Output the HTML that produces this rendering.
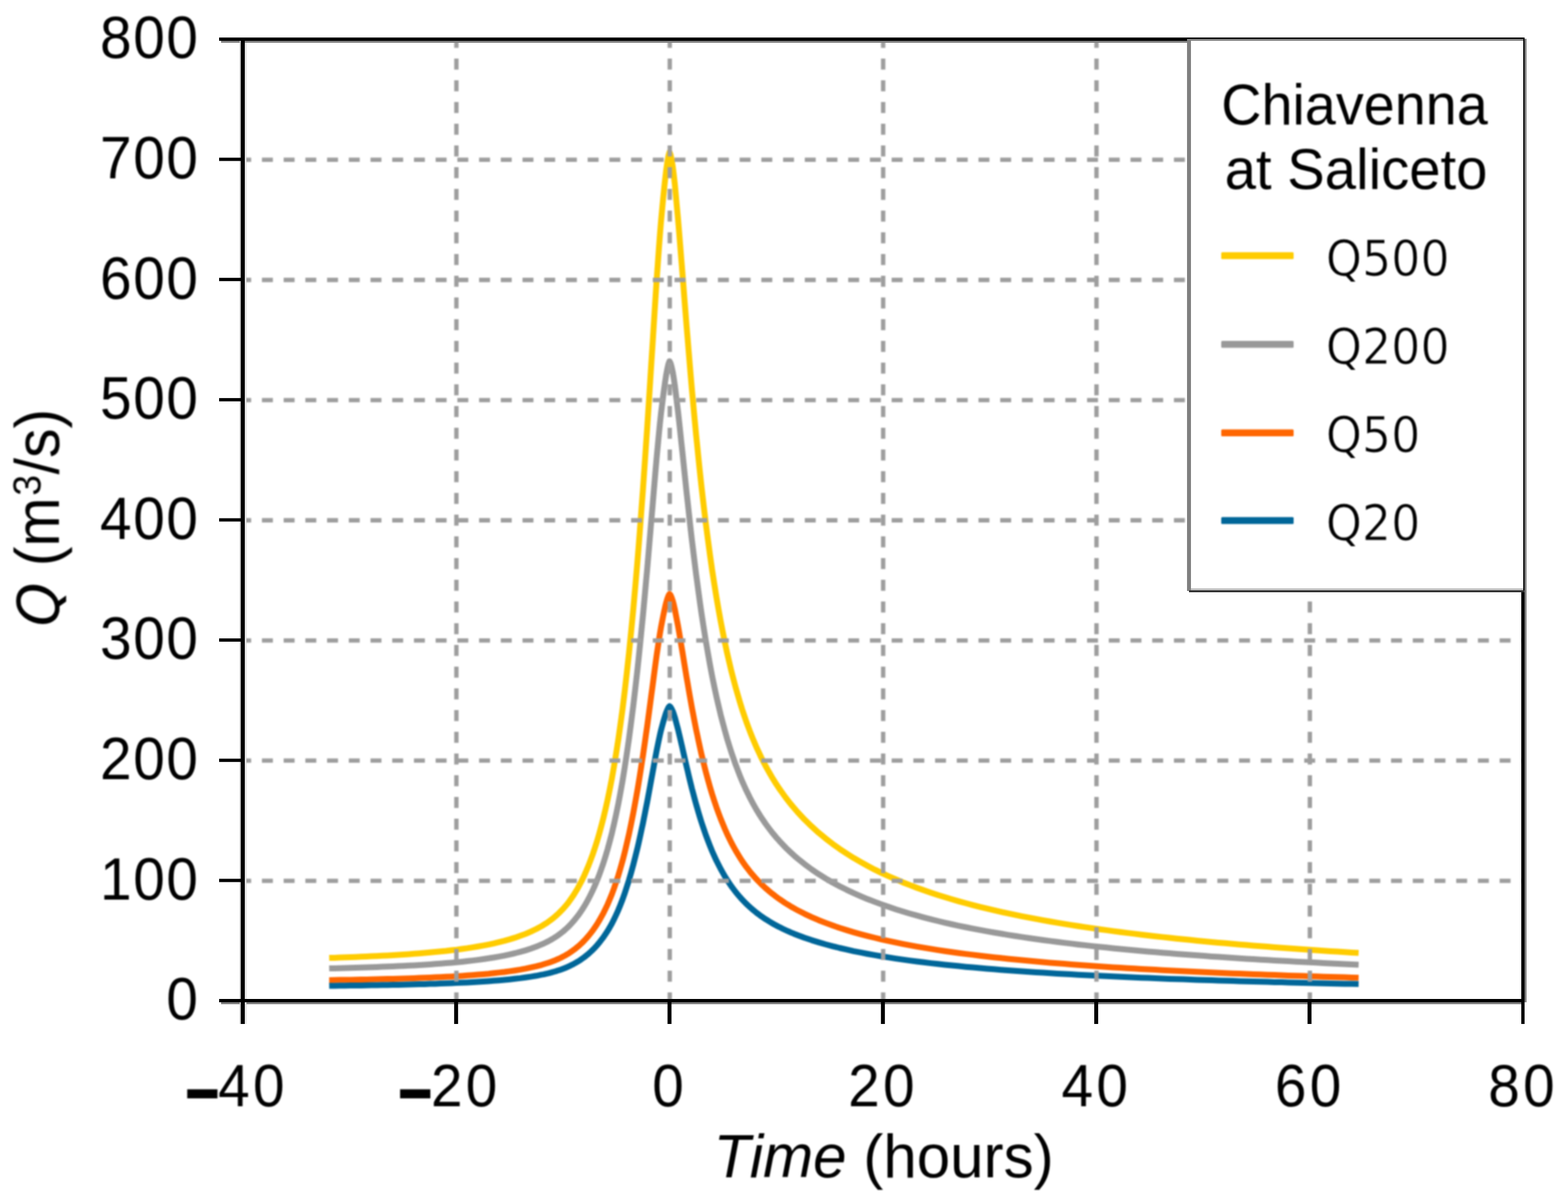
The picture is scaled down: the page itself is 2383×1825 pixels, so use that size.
<!DOCTYPE html>
<html lang="en"><head><meta charset="utf-8"><title>Chiavenna at Saliceto - synthetic design hydrographs</title>
<style>html,body{margin:0;padding:0;background:#fff}body{width:2383px;height:1825px;overflow:hidden}svg{display:block}text{font-family:"Liberation Sans", sans-serif;fill:#000}</style>
</head><body>
<svg width="2383" height="1825" viewBox="0 0 2383 1825">
<defs><filter id="soft" x="0" y="0" width="2383" height="1825" filterUnits="userSpaceOnUse" color-interpolation-filters="sRGB"><feGaussianBlur stdDeviation="0.85"/></filter></defs>
<rect width="2383" height="1825" fill="#fff"/>
<g filter="url(#soft)">
<g fill="none" stroke-width="9" stroke-linejoin="round" stroke-linecap="butt">
<polyline stroke="#ffcc00" points="500.3,1455.6 508.4,1455.4 516.5,1455.1 524.5,1454.8 532.6,1454.5 540.6,1454.2 548.7,1453.8 556.8,1453.5 564.8,1453.1 572.9,1452.7 581.0,1452.3 589.0,1451.9 597.1,1451.4 605.2,1450.9 613.2,1450.4 621.3,1449.9 629.4,1449.3 637.4,1448.7 645.5,1448.0 653.6,1447.3 661.6,1446.6 669.7,1445.8 677.8,1445.0 685.8,1444.0 693.9,1443.1 702.0,1442.0 710.0,1440.9 718.1,1439.6 726.2,1438.3 734.2,1436.9 742.3,1435.3 750.4,1433.6 758.4,1431.7 766.5,1429.7 774.6,1427.4 782.6,1424.9 790.7,1422.1 798.8,1419.1 806.8,1415.6 814.9,1411.8 823.0,1407.4 826.2,1405.4 829.4,1403.4 832.7,1401.2 835.9,1398.9 839.2,1396.4 842.4,1393.8 845.6,1391.0 848.9,1388.0 852.1,1384.8 855.4,1381.4 858.6,1377.8 861.9,1373.9 865.1,1369.7 868.3,1365.2 871.6,1360.4 874.8,1355.2 878.1,1349.7 881.3,1343.7 884.6,1337.4 887.8,1330.6 891.0,1323.3 894.3,1315.5 897.5,1307.2 900.8,1298.2 904.0,1288.7 907.3,1278.5 910.5,1267.5 913.7,1255.8 917.0,1243.2 920.2,1229.6 923.5,1215.0 926.7,1199.3 930.0,1182.5 933.2,1164.3 936.4,1144.8 939.7,1123.8 942.9,1101.1 946.2,1076.8 949.4,1050.6 952.6,1022.6 955.9,992.6 959.1,960.5 962.4,926.4 965.6,890.1 968.9,851.7 970.5,831.6 972.1,811.0 973.7,789.8 975.3,768.1 977.0,745.8 978.6,723.0 980.2,699.7 981.8,675.9 983.5,651.6 985.1,627.0 986.7,602.0 988.3,576.7 989.9,551.2 991.6,525.6 993.2,500.1 994.8,474.7 996.4,449.6 998.0,425.1 999.7,401.4 1001.3,378.7 1002.9,357.4 1004.5,337.5 1006.2,319.0 1007.8,302.1 1009.4,286.2 1011.0,271.2 1012.6,257.6 1014.3,245.8 1015.9,236.7 1017.5,231.2 1019.1,235.2 1020.7,242.7 1022.4,252.9 1024.0,265.5 1025.6,280.1 1027.2,297.4 1028.8,314.8 1030.5,333.2 1032.1,352.5 1033.7,372.3 1035.3,392.6 1037.0,413.1 1038.6,433.7 1040.2,454.3 1041.8,474.7 1043.4,494.9 1045.1,514.9 1046.7,534.6 1048.3,553.9 1049.9,572.9 1051.5,591.4 1053.2,609.6 1054.8,627.3 1056.4,644.6 1058.0,661.5 1059.7,677.9 1061.3,694.0 1062.9,709.6 1064.5,724.8 1066.1,739.6 1069.4,767.9 1072.6,794.7 1075.9,820.0 1079.1,843.8 1082.3,866.3 1085.6,887.5 1088.8,907.5 1092.1,926.4 1095.3,944.2 1098.6,961.1 1101.8,977.0 1105.0,992.0 1108.3,1006.2 1111.5,1019.7 1114.8,1032.5 1118.0,1044.6 1121.3,1056.1 1124.5,1067.0 1127.7,1077.4 1131.0,1087.2 1134.2,1096.6 1137.5,1105.5 1140.7,1114.0 1144.0,1122.1 1147.2,1129.8 1150.4,1137.2 1153.7,1144.2 1156.9,1151.0 1160.2,1157.5 1163.4,1163.7 1166.7,1169.6 1169.9,1175.3 1173.1,1180.8 1176.4,1186.1 1179.6,1191.3 1182.9,1196.2 1186.1,1200.9 1189.4,1205.5 1192.6,1210.0 1195.8,1214.3 1199.1,1218.5 1202.3,1222.5 1205.6,1226.4 1208.8,1230.2 1212.0,1233.9 1222.7,1245.3 1233.4,1255.7 1244.0,1265.3 1254.7,1274.1 1265.3,1282.3 1276.0,1289.9 1286.7,1297.0 1297.3,1303.7 1308.0,1309.9 1318.6,1315.8 1329.3,1321.4 1340.0,1326.6 1350.6,1331.5 1361.3,1336.2 1371.9,1340.7 1382.6,1344.9 1393.3,1349.0 1403.9,1352.8 1414.6,1356.5 1425.2,1360.0 1435.9,1363.3 1446.6,1366.5 1457.2,1369.6 1467.9,1372.5 1478.5,1375.4 1489.2,1378.1 1499.9,1380.7 1510.5,1383.2 1521.2,1385.6 1531.8,1387.9 1542.5,1390.2 1553.2,1392.3 1563.8,1394.4 1574.5,1396.4 1585.1,1398.4 1595.8,1400.3 1606.5,1402.1 1617.1,1403.9 1627.8,1405.6 1638.4,1407.3 1649.1,1408.9 1659.8,1410.4 1670.4,1412.0 1681.1,1413.4 1691.7,1414.9 1702.4,1416.3 1713.1,1417.6 1723.7,1418.9 1734.4,1420.2 1745.0,1421.5 1755.7,1422.7 1766.4,1423.9 1777.0,1425.0 1787.7,1426.2 1798.3,1427.3 1809.0,1428.3 1819.7,1429.4 1830.3,1430.4 1841.0,1431.4 1851.6,1432.4 1862.3,1433.3 1873.0,1434.3 1883.6,1435.2 1894.3,1436.1 1904.9,1436.9 1915.6,1437.8 1926.3,1438.6 1936.9,1439.4 1947.6,1440.2 1958.2,1441.0 1968.9,1441.8 1979.5,1442.5 1990.2,1443.3 2000.9,1444.0 2011.5,1444.7 2022.2,1445.4 2032.8,1446.1 2043.5,1446.7 2054.2,1447.4 2064.8,1448.0"/>
<polyline stroke="#999999" points="500.3,1471.6 508.4,1471.4 516.5,1471.2 524.5,1471.0 532.6,1470.8 540.6,1470.5 548.7,1470.3 556.8,1470.0 564.8,1469.7 572.9,1469.4 581.0,1469.1 589.0,1468.8 597.1,1468.4 605.2,1468.1 613.2,1467.7 621.3,1467.3 629.4,1466.9 637.4,1466.4 645.5,1465.9 653.6,1465.4 661.6,1464.8 669.7,1464.2 677.8,1463.6 685.8,1462.9 693.9,1462.2 702.0,1461.4 710.0,1460.5 718.1,1459.6 726.2,1458.6 734.2,1457.5 742.3,1456.3 750.4,1455.0 758.4,1453.6 766.5,1452.1 774.6,1450.3 782.6,1448.5 790.7,1446.4 798.8,1444.1 806.8,1441.5 814.9,1438.6 823.0,1435.2 826.2,1433.8 829.4,1432.2 832.7,1430.6 835.9,1428.8 839.2,1427.0 842.4,1425.0 845.6,1422.9 848.9,1420.7 852.1,1418.3 855.4,1415.7 858.6,1413.0 861.9,1410.0 865.1,1406.9 868.3,1403.5 871.6,1399.8 874.8,1395.9 878.1,1391.8 881.3,1387.3 884.6,1382.5 887.8,1377.4 891.0,1371.9 894.3,1366.0 897.5,1359.7 900.8,1353.0 904.0,1345.8 907.3,1338.1 910.5,1329.9 913.7,1321.0 917.0,1311.5 920.2,1301.3 923.5,1290.3 926.7,1278.5 930.0,1265.8 933.2,1252.1 936.4,1237.4 939.7,1221.5 942.9,1204.5 946.2,1186.1 949.4,1166.4 952.6,1145.3 955.9,1122.7 959.1,1098.5 962.4,1072.8 965.6,1045.5 968.9,1016.5 970.5,1001.4 972.1,985.8 973.7,969.9 975.3,953.5 977.0,936.7 978.6,919.5 980.2,902.0 981.8,884.0 983.5,865.8 985.1,847.2 986.7,828.3 988.3,809.3 989.9,790.1 991.6,770.8 993.2,751.6 994.8,732.4 996.4,713.5 998.0,695.1 999.7,677.2 1001.3,660.1 1002.9,644.0 1004.5,629.1 1006.2,615.1 1007.8,602.4 1009.4,590.4 1011.0,579.1 1012.6,568.8 1014.3,560.0 1015.9,553.1 1017.5,548.9 1019.1,552.0 1020.7,557.6 1022.4,565.3 1024.0,574.8 1025.6,585.8 1027.2,598.9 1028.8,612.0 1030.5,625.8 1032.1,640.3 1033.7,655.3 1035.3,670.6 1037.0,686.0 1038.6,701.5 1040.2,717.0 1041.8,732.4 1043.4,747.7 1045.1,762.8 1046.7,777.6 1048.3,792.1 1049.9,806.4 1051.5,820.4 1053.2,834.1 1054.8,847.4 1056.4,860.5 1058.0,873.2 1059.7,885.6 1061.3,897.7 1062.9,909.4 1064.5,920.9 1066.1,932.0 1069.4,953.4 1072.6,973.6 1075.9,992.6 1079.1,1010.6 1082.3,1027.5 1085.6,1043.5 1088.8,1058.6 1092.1,1072.8 1095.3,1086.3 1098.6,1098.9 1101.8,1110.9 1105.0,1122.3 1108.3,1133.0 1111.5,1143.1 1114.8,1152.8 1118.0,1161.9 1121.3,1170.5 1124.5,1178.8 1127.7,1186.6 1131.0,1194.0 1134.2,1201.1 1137.5,1207.8 1140.7,1214.2 1144.0,1220.3 1147.2,1226.1 1150.4,1231.7 1153.7,1237.0 1156.9,1242.1 1160.2,1246.9 1163.4,1251.6 1166.7,1256.1 1169.9,1260.4 1173.1,1264.6 1176.4,1268.5 1179.6,1272.4 1182.9,1276.1 1186.1,1279.7 1189.4,1283.2 1192.6,1286.5 1195.8,1289.8 1199.1,1292.9 1202.3,1295.9 1205.6,1298.9 1208.8,1301.8 1212.0,1304.5 1222.7,1313.1 1233.4,1321.0 1244.0,1328.2 1254.7,1334.8 1265.3,1341.0 1276.0,1346.7 1286.7,1352.1 1297.3,1357.1 1308.0,1361.8 1318.6,1366.3 1329.3,1370.4 1340.0,1374.4 1350.6,1378.1 1361.3,1381.7 1371.9,1385.0 1382.6,1388.2 1393.3,1391.2 1403.9,1394.1 1414.6,1396.9 1425.2,1399.5 1435.9,1402.1 1446.6,1404.5 1457.2,1406.8 1467.9,1409.0 1478.5,1411.1 1489.2,1413.2 1499.9,1415.1 1510.5,1417.0 1521.2,1418.8 1531.8,1420.6 1542.5,1422.3 1553.2,1423.9 1563.8,1425.5 1574.5,1427.0 1585.1,1428.5 1595.8,1429.9 1606.5,1431.3 1617.1,1432.6 1627.8,1433.9 1638.4,1435.2 1649.1,1436.4 1659.8,1437.6 1670.4,1438.7 1681.1,1439.8 1691.7,1440.9 1702.4,1442.0 1713.1,1443.0 1723.7,1444.0 1734.4,1444.9 1745.0,1445.9 1755.7,1446.8 1766.4,1447.7 1777.0,1448.6 1787.7,1449.4 1798.3,1450.2 1809.0,1451.0 1819.7,1451.8 1830.3,1452.6 1841.0,1453.4 1851.6,1454.1 1862.3,1454.8 1873.0,1455.5 1883.6,1456.2 1894.3,1456.9 1904.9,1457.5 1915.6,1458.2 1926.3,1458.8 1936.9,1459.4 1947.6,1460.0 1958.2,1460.6 1968.9,1461.2 1979.5,1461.7 1990.2,1462.3 2000.9,1462.8 2011.5,1463.4 2022.2,1463.9 2032.8,1464.4 2043.5,1464.9 2054.2,1465.4 2064.8,1465.9"/>
<polyline stroke="#ff6600" points="500.3,1489.4 508.4,1489.3 516.5,1489.1 524.5,1489.0 532.6,1488.9 540.6,1488.7 548.7,1488.5 556.8,1488.4 564.8,1488.2 572.9,1488.0 581.0,1487.8 589.0,1487.6 597.1,1487.4 605.2,1487.2 613.2,1486.9 621.3,1486.7 629.4,1486.4 637.4,1486.1 645.5,1485.8 653.6,1485.4 661.6,1485.1 669.7,1484.7 677.8,1484.3 685.8,1483.9 693.9,1483.4 702.0,1482.9 710.0,1482.3 718.1,1481.7 726.2,1481.1 734.2,1480.4 742.3,1479.7 750.4,1478.8 758.4,1477.9 766.5,1477.0 774.6,1475.9 782.6,1474.7 790.7,1473.4 798.8,1471.9 806.8,1470.2 814.9,1468.4 823.0,1466.3 826.2,1465.3 829.4,1464.3 832.7,1463.3 835.9,1462.2 839.2,1461.0 842.4,1459.8 845.6,1458.4 848.9,1457.0 852.1,1455.5 855.4,1453.8 858.6,1452.1 861.9,1450.2 865.1,1448.2 868.3,1446.1 871.6,1443.7 874.8,1441.3 878.1,1438.6 881.3,1435.8 884.6,1432.7 887.8,1429.5 891.0,1426.0 894.3,1422.2 897.5,1418.2 900.8,1414.0 904.0,1409.4 907.3,1404.5 910.5,1399.2 913.7,1393.6 917.0,1387.6 920.2,1381.1 923.5,1374.1 926.7,1366.6 930.0,1358.5 933.2,1349.8 936.4,1340.4 939.7,1330.3 942.9,1319.5 946.2,1307.8 949.4,1295.3 952.6,1281.8 955.9,1267.5 959.1,1252.1 962.4,1235.7 965.6,1218.3 968.9,1199.9 970.5,1190.3 972.1,1180.4 973.7,1170.3 975.3,1159.8 977.0,1149.2 978.6,1138.2 980.2,1127.1 981.8,1115.6 983.5,1104.0 985.1,1092.2 986.7,1080.2 988.3,1068.1 989.9,1055.9 991.6,1043.6 993.2,1031.4 994.8,1019.2 996.4,1007.2 998.0,995.5 999.7,984.1 1001.3,973.2 1002.9,963.0 1004.5,953.5 1006.2,944.6 1007.8,936.5 1009.4,928.9 1011.0,921.7 1012.6,915.2 1014.3,909.5 1015.9,905.2 1017.5,902.5 1019.1,904.4 1020.7,908.0 1022.4,912.9 1024.0,919.0 1025.6,925.9 1027.2,934.3 1028.8,942.6 1030.5,951.4 1032.1,960.6 1033.7,970.2 1035.3,979.9 1037.0,989.7 1038.6,999.6 1040.2,1009.4 1041.8,1019.2 1043.4,1028.9 1045.1,1038.5 1046.7,1047.9 1048.3,1057.2 1049.9,1066.3 1051.5,1075.2 1053.2,1083.9 1054.8,1092.4 1056.4,1100.7 1058.0,1108.8 1059.7,1116.6 1061.3,1124.3 1062.9,1131.8 1064.5,1139.1 1066.1,1146.2 1069.4,1159.8 1072.6,1172.6 1075.9,1184.7 1079.1,1196.2 1082.3,1206.9 1085.6,1217.1 1088.8,1226.7 1092.1,1235.7 1095.3,1244.3 1098.6,1252.3 1101.8,1260.0 1105.0,1267.2 1108.3,1274.0 1111.5,1280.5 1114.8,1286.6 1118.0,1292.4 1121.3,1297.9 1124.5,1303.1 1127.7,1308.1 1131.0,1312.8 1134.2,1317.3 1137.5,1321.6 1140.7,1325.7 1144.0,1329.5 1147.2,1333.2 1150.4,1336.8 1153.7,1340.1 1156.9,1343.4 1160.2,1346.5 1163.4,1349.5 1166.7,1352.3 1169.9,1355.1 1173.1,1357.7 1176.4,1360.2 1179.6,1362.7 1182.9,1365.1 1186.1,1367.3 1189.4,1369.5 1192.6,1371.7 1195.8,1373.7 1199.1,1375.7 1202.3,1377.7 1205.6,1379.5 1208.8,1381.4 1212.0,1383.1 1222.7,1388.6 1233.4,1393.6 1244.0,1398.2 1254.7,1402.4 1265.3,1406.3 1276.0,1410.0 1286.7,1413.4 1297.3,1416.6 1308.0,1419.6 1318.6,1422.4 1329.3,1425.0 1340.0,1427.6 1350.6,1429.9 1361.3,1432.2 1371.9,1434.3 1382.6,1436.3 1393.3,1438.3 1403.9,1440.1 1414.6,1441.9 1425.2,1443.6 1435.9,1445.2 1446.6,1446.7 1457.2,1448.2 1467.9,1449.6 1478.5,1450.9 1489.2,1452.2 1499.9,1453.5 1510.5,1454.7 1521.2,1455.8 1531.8,1457.0 1542.5,1458.0 1553.2,1459.1 1563.8,1460.1 1574.5,1461.0 1585.1,1462.0 1595.8,1462.9 1606.5,1463.8 1617.1,1464.6 1627.8,1465.4 1638.4,1466.2 1649.1,1467.0 1659.8,1467.7 1670.4,1468.5 1681.1,1469.2 1691.7,1469.9 1702.4,1470.5 1713.1,1471.2 1723.7,1471.8 1734.4,1472.4 1745.0,1473.0 1755.7,1473.6 1766.4,1474.2 1777.0,1474.7 1787.7,1475.3 1798.3,1475.8 1809.0,1476.3 1819.7,1476.8 1830.3,1477.3 1841.0,1477.8 1851.6,1478.3 1862.3,1478.7 1873.0,1479.2 1883.6,1479.6 1894.3,1480.0 1904.9,1480.4 1915.6,1480.8 1926.3,1481.2 1936.9,1481.6 1947.6,1482.0 1958.2,1482.4 1968.9,1482.8 1979.5,1483.1 1990.2,1483.5 2000.9,1483.8 2011.5,1484.2 2022.2,1484.5 2032.8,1484.8 2043.5,1485.1 2054.2,1485.5 2064.8,1485.8"/>
<polyline stroke="#006699" points="500.3,1498.0 508.4,1497.9 516.5,1497.8 524.5,1497.7 532.6,1497.6 540.6,1497.5 548.7,1497.4 556.8,1497.2 564.8,1497.1 572.9,1497.0 581.0,1496.8 589.0,1496.7 597.1,1496.5 605.2,1496.4 613.2,1496.2 621.3,1496.0 629.4,1495.8 637.4,1495.6 645.5,1495.4 653.6,1495.1 661.6,1494.9 669.7,1494.6 677.8,1494.3 685.8,1494.0 693.9,1493.6 702.0,1493.3 710.0,1492.9 718.1,1492.4 726.2,1492.0 734.2,1491.5 742.3,1490.9 750.4,1490.3 758.4,1489.7 766.5,1489.0 774.6,1488.2 782.6,1487.3 790.7,1486.4 798.8,1485.3 806.8,1484.1 814.9,1482.8 823.0,1481.2 826.2,1480.6 829.4,1479.8 832.7,1479.1 835.9,1478.3 839.2,1477.4 842.4,1476.5 845.6,1475.6 848.9,1474.5 852.1,1473.4 855.4,1472.2 858.6,1471.0 861.9,1469.6 865.1,1468.2 868.3,1466.6 871.6,1464.9 874.8,1463.1 878.1,1461.2 881.3,1459.2 884.6,1456.9 887.8,1454.6 891.0,1452.1 894.3,1449.4 897.5,1446.5 900.8,1443.4 904.0,1440.1 907.3,1436.5 910.5,1432.7 913.7,1428.6 917.0,1424.3 920.2,1419.5 923.5,1414.5 926.7,1409.1 930.0,1403.2 933.2,1396.9 936.4,1390.1 939.7,1382.8 942.9,1375.0 946.2,1366.5 949.4,1357.4 952.6,1347.7 955.9,1337.3 959.1,1326.2 962.4,1314.3 965.6,1301.7 968.9,1288.4 970.5,1281.4 972.1,1274.3 973.7,1266.9 975.3,1259.4 977.0,1251.7 978.6,1243.7 980.2,1235.6 981.8,1227.4 983.5,1219.0 985.1,1210.4 986.7,1201.7 988.3,1193.0 989.9,1184.1 991.6,1175.2 993.2,1166.4 994.8,1157.6 996.4,1148.9 998.0,1140.4 999.7,1132.1 1001.3,1124.3 1002.9,1116.9 1004.5,1110.0 1006.2,1103.6 1007.8,1097.7 1009.4,1092.2 1011.0,1087.0 1012.6,1082.2 1014.3,1078.2 1015.9,1075.0 1017.5,1073.1 1019.1,1074.5 1020.7,1077.1 1022.4,1080.6 1024.0,1085.0 1025.6,1090.0 1027.2,1096.1 1028.8,1102.1 1030.5,1108.5 1032.1,1115.2 1033.7,1122.1 1035.3,1129.1 1037.0,1136.2 1038.6,1143.4 1040.2,1150.5 1041.8,1157.6 1043.4,1164.6 1045.1,1171.5 1046.7,1178.4 1048.3,1185.1 1049.9,1191.6 1051.5,1198.1 1053.2,1204.4 1054.8,1210.5 1056.4,1216.5 1058.0,1222.4 1059.7,1228.1 1061.3,1233.7 1062.9,1239.1 1064.5,1244.4 1066.1,1249.5 1069.4,1259.3 1072.6,1268.6 1075.9,1277.4 1079.1,1285.7 1082.3,1293.5 1085.6,1300.8 1088.8,1307.8 1092.1,1314.3 1095.3,1320.5 1098.6,1326.4 1101.8,1331.9 1105.0,1337.1 1108.3,1342.0 1111.5,1346.7 1114.8,1351.1 1118.0,1355.4 1121.3,1359.3 1124.5,1363.1 1127.7,1366.7 1131.0,1370.1 1134.2,1373.4 1137.5,1376.5 1140.7,1379.4 1144.0,1382.2 1147.2,1384.9 1150.4,1387.5 1153.7,1389.9 1156.9,1392.3 1160.2,1394.5 1163.4,1396.7 1166.7,1398.7 1169.9,1400.7 1173.1,1402.6 1176.4,1404.5 1179.6,1406.2 1182.9,1408.0 1186.1,1409.6 1189.4,1411.2 1192.6,1412.7 1195.8,1414.2 1199.1,1415.7 1202.3,1417.1 1205.6,1418.4 1208.8,1419.8 1212.0,1421.0 1222.7,1425.0 1233.4,1428.6 1244.0,1431.9 1254.7,1435.0 1265.3,1437.8 1276.0,1440.5 1286.7,1442.9 1297.3,1445.3 1308.0,1447.4 1318.6,1449.5 1329.3,1451.4 1340.0,1453.2 1350.6,1454.9 1361.3,1456.6 1371.9,1458.1 1382.6,1459.6 1393.3,1461.0 1403.9,1462.3 1414.6,1463.6 1425.2,1464.8 1435.9,1466.0 1446.6,1467.1 1457.2,1468.1 1467.9,1469.2 1478.5,1470.1 1489.2,1471.1 1499.9,1472.0 1510.5,1472.8 1521.2,1473.7 1531.8,1474.5 1542.5,1475.3 1553.2,1476.0 1563.8,1476.7 1574.5,1477.4 1585.1,1478.1 1595.8,1478.8 1606.5,1479.4 1617.1,1480.0 1627.8,1480.6 1638.4,1481.2 1649.1,1481.8 1659.8,1482.3 1670.4,1482.8 1681.1,1483.3 1691.7,1483.8 1702.4,1484.3 1713.1,1484.8 1723.7,1485.3 1734.4,1485.7 1745.0,1486.1 1755.7,1486.6 1766.4,1487.0 1777.0,1487.4 1787.7,1487.8 1798.3,1488.1 1809.0,1488.5 1819.7,1488.9 1830.3,1489.2 1841.0,1489.6 1851.6,1489.9 1862.3,1490.2 1873.0,1490.6 1883.6,1490.9 1894.3,1491.2 1904.9,1491.5 1915.6,1491.8 1926.3,1492.1 1936.9,1492.4 1947.6,1492.6 1958.2,1492.9 1968.9,1493.2 1979.5,1493.4 1990.2,1493.7 2000.9,1493.9 2011.5,1494.2 2022.2,1494.4 2032.8,1494.7 2043.5,1494.9 2054.2,1495.1 2064.8,1495.3"/>
</g>
<g stroke="#9e9e9e" stroke-width="6.6" stroke-dasharray="16.6 16.4" fill="none">
<line x1="369" y1="1338.5" x2="2313" y2="1338.5" stroke-dashoffset="3.9"/>
<line x1="369" y1="1155.8" x2="2313" y2="1155.8" stroke-dashoffset="3.9"/>
<line x1="369" y1="973.2" x2="2313" y2="973.2" stroke-dashoffset="3.9"/>
<line x1="369" y1="790.6" x2="2313" y2="790.6" stroke-dashoffset="3.9"/>
<line x1="369" y1="608.0" x2="2313" y2="608.0" stroke-dashoffset="3.9"/>
<line x1="369" y1="425.4" x2="2313" y2="425.4" stroke-dashoffset="3.9"/>
<line x1="369" y1="242.7" x2="2313" y2="242.7" stroke-dashoffset="3.9"/>
<line x1="693.6" y1="60" x2="693.6" y2="1519" stroke-dashoffset="3.9"/>
<line x1="1017.9" y1="60" x2="1017.9" y2="1519" stroke-dashoffset="3.9"/>
<line x1="1342.2" y1="60" x2="1342.2" y2="1519" stroke-dashoffset="3.9"/>
<line x1="1666.4" y1="60" x2="1666.4" y2="1519" stroke-dashoffset="3.9"/>
<line x1="1990.7" y1="60" x2="1990.7" y2="1519" stroke-dashoffset="3.9"/>
</g>
</g>
<g fill="#808080">
<rect x="336" y="62" width="1978" height="3"/>
<rect x="336" y="1523" width="1978" height="3"/>
<rect x="2317" y="59" width="3" height="1464"/>
</g>
<rect x="364.2" y="62" width="2" height="1494" fill="#c6c6c6"/>
<rect x="372" y="65" width="2.6" height="1491" fill="#e2e2e2"/>
<g fill="#000">
<rect x="366" y="57" width="6" height="1499"/>
<rect x="2312" y="57" width="5" height="1499"/>
<rect x="333" y="57" width="1984" height="5"/>
<rect x="333" y="1518" width="1984" height="5"/>
<rect x="333" y="1335.4" width="36" height="5"/>
<rect x="333" y="1152.8" width="36" height="5"/>
<rect x="333" y="970.1" width="36" height="5"/>
<rect x="333" y="787.5" width="36" height="5"/>
<rect x="333" y="604.9" width="36" height="5"/>
<rect x="333" y="422.2" width="36" height="5"/>
<rect x="333" y="239.6" width="36" height="5"/>
<rect x="690.2" y="1520" width="6" height="36"/>
<rect x="1014.5" y="1520" width="6" height="36"/>
<rect x="1338.8" y="1520" width="6" height="36"/>
<rect x="1663.0" y="1520" width="6" height="36"/>
<rect x="1987.2" y="1520" width="6" height="36"/>
</g>
<rect x="1807" y="59" width="508" height="838" fill="#fff"/>
<rect x="1804" y="59" width="6" height="839" fill="#808080"/>
<rect x="1807" y="59" width="510" height="3" fill="#808080"/>
<rect x="1807" y="57" width="510" height="2" fill="#000"/>
<rect x="2315" y="57" width="2" height="843" fill="#000"/>
<rect x="2317" y="59" width="3" height="841" fill="#808080"/>
<rect x="1810" y="894" width="505" height="3" fill="#c0c0c0"/>
<rect x="1807" y="897" width="510" height="3" fill="#333"/>
<g filter="url(#soft)">
<text transform="translate(1856.0,188.6) scale(0.976,1)" font-size="86.8">Chiavenna</text>
<text transform="translate(1861.3,287.1) scale(0.985,1)" font-size="86.8">at Saliceto</text>
<rect x="1856" y="383.2" width="110" height="10.6" rx="1.5" fill="#ffcc00"/>
<text x="2015" y="418.8" font-size="74.5" style="font-family:'DejaVu Sans','Liberation Sans',sans-serif" stroke="#fff" stroke-width="1.2" textLength="188.0" lengthAdjust="spacingAndGlyphs">Q500</text>
<rect x="1856" y="517.9" width="110" height="10.6" rx="1.5" fill="#999999"/>
<text x="2015" y="553.0" font-size="74.5" style="font-family:'DejaVu Sans','Liberation Sans',sans-serif" stroke="#fff" stroke-width="1.2" textLength="188.0" lengthAdjust="spacingAndGlyphs">Q200</text>
<rect x="1856" y="652.5" width="110" height="10.6" rx="1.5" fill="#ff6600"/>
<text x="2015" y="687.2" font-size="74.5" style="font-family:'DejaVu Sans','Liberation Sans',sans-serif" stroke="#fff" stroke-width="1.2" textLength="143.6" lengthAdjust="spacingAndGlyphs">Q50</text>
<rect x="1856" y="785.7" width="110" height="10.6" rx="1.5" fill="#006699"/>
<text x="2015" y="821.2" font-size="74.5" style="font-family:'DejaVu Sans','Liberation Sans',sans-serif" stroke="#fff" stroke-width="1.2" textLength="143.6" lengthAdjust="spacingAndGlyphs">Q20</text>
<text transform="translate(303.3,1549.3) scale(0.945,1)" font-size="91.3" text-anchor="end" letter-spacing="2.60">0</text>
<text transform="translate(303.3,1366.7) scale(0.945,1)" font-size="91.3" text-anchor="end" letter-spacing="2.60">100</text>
<text transform="translate(303.3,1184.0) scale(0.945,1)" font-size="91.3" text-anchor="end" letter-spacing="2.60">200</text>
<text transform="translate(303.3,1001.4) scale(0.945,1)" font-size="91.3" text-anchor="end" letter-spacing="2.60">300</text>
<text transform="translate(303.3,818.8) scale(0.945,1)" font-size="91.3" text-anchor="end" letter-spacing="2.60">400</text>
<text transform="translate(303.3,636.2) scale(0.945,1)" font-size="91.3" text-anchor="end" letter-spacing="2.60">500</text>
<text transform="translate(303.3,453.6) scale(0.945,1)" font-size="91.3" text-anchor="end" letter-spacing="2.60">600</text>
<text transform="translate(303.3,270.9) scale(0.945,1)" font-size="91.3" text-anchor="end" letter-spacing="2.60">700</text>
<text transform="translate(303.3,88.3) scale(0.945,1)" font-size="91.3" text-anchor="end" letter-spacing="2.60">800</text>
<text transform="translate(1017.7,1680.7) scale(0.945,1)" font-size="91.3" text-anchor="middle" letter-spacing="5.20">0</text>
<text transform="translate(1342.0,1680.7) scale(0.945,1)" font-size="91.3" text-anchor="middle" letter-spacing="5.20">20</text>
<text transform="translate(1666.2,1680.7) scale(0.945,1)" font-size="91.3" text-anchor="middle" letter-spacing="5.20">40</text>
<text transform="translate(1990.5,1680.7) scale(0.945,1)" font-size="91.3" text-anchor="middle" letter-spacing="5.20">60</text>
<text transform="translate(2314.7,1680.7) scale(0.945,1)" font-size="91.3" text-anchor="middle" letter-spacing="5.20">80</text>
<text transform="translate(282.8,1680.7) scale(0.945,1)" font-size="91.3" text-anchor="start" letter-spacing="5.20"><tspan font-weight="bold" font-size="89" dy="11.2" stroke="#000" stroke-width="4" stroke-linejoin="miter">−</tspan><tspan dx="-5.6" dy="-11.2">40</tspan></text>
<text transform="translate(606.2,1680.7) scale(0.945,1)" font-size="91.3" text-anchor="start" letter-spacing="5.20"><tspan font-weight="bold" font-size="89" dy="11.2" stroke="#000" stroke-width="4" stroke-linejoin="miter">−</tspan><tspan dx="-5.6" dy="-11.2">20</tspan></text>
<text transform="translate(1084.5,1788.8) scale(0.976,1)" font-size="93.6" text-anchor="start"><tspan font-style="italic">Time</tspan> (hours)</text>
<text transform="translate(89.5,952.2) rotate(-90) scale(0.96,1)" font-size="93.6"><tspan x="0.5" font-style="italic" font-size="88" style="font-family:'DejaVu Sans','Liberation Sans',sans-serif">Q</tspan><tspan x="69.5"> (m</tspan><tspan x="207.2" font-size="59" dy="-28">3</tspan><tspan x="240.8" dy="28">/s)</tspan></text>
</g>
</svg>
</body></html>
